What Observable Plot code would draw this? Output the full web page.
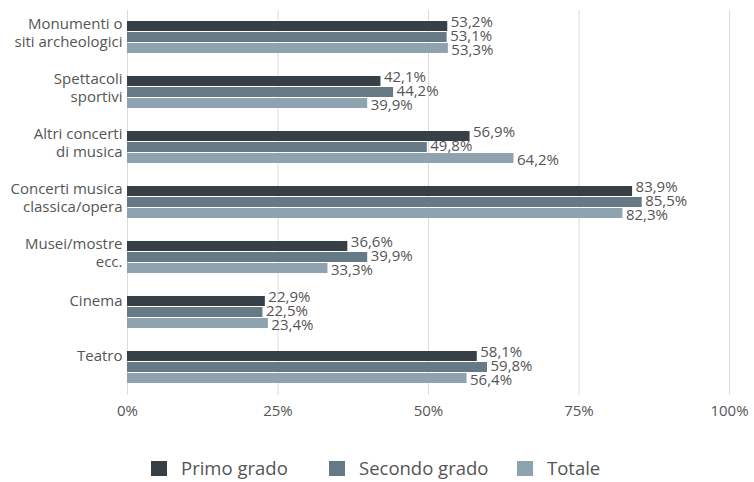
<!DOCTYPE html>
<html><head><meta charset="utf-8">
<script src="https://cdn.jsdelivr.net/npm/d3@7"></script>
<script src="https://cdn.jsdelivr.net/npm/@observablehq/plot@0.6"></script>
<style>
body{margin:0;background:#fff;font-family:"Open Sans",sans-serif;}
#wrap{position:relative;width:754px;height:482px;}
#legend{position:absolute;left:0;top:458px;width:754px;height:20px;font-size:18.5px;color:#555;}
.item{position:absolute;top:0;display:flex;align-items:center;height:20px;line-height:20px;}
.sw{width:16px;height:15px;display:inline-block;margin-right:14px;}
</style></head><body>
<div id="wrap">
<div id="chart"></div>
<div id="legend"></div>
</div>
<script>
const categories = ["Monumenti o\nsiti archeologici","Spettacoli\nsportivi","Altri concerti\ndi musica","Concerti musica\nclassica/opera","Musei/mostre\necc.","Cinema","Teatro"];
const series = ["Primo grado","Secondo grado","Totale"];
const colors = ["#373f47","#657a84","#8ea3af"];
const primo = [53.2,42.1,56.9,83.9,36.6,22.9,58.1];
const secondo = [53.1,44.2,49.8,85.5,39.9,22.5,59.8];
const totale = [53.3,39.9,64.2,82.3,33.3,23.4,56.4];
const xTicks = [0,25,50,75,100];

const vals = [primo, secondo, totale];
const data = [];
categories.forEach((c,i)=>series.forEach((s,j)=>data.push({cat:c, ser:s, v:vals[j][i]})));
const fmt = v => v.toFixed(1).replace(".", ",") + "%";
const labelDy = [-4, -1, 2];
const multiLine = categories.filter(c => c.includes("\n"));
const singleLine = categories.filter(c => !c.includes("\n"));

const plot = Plot.plot({
  width: 754, height: 427,
  marginLeft: 127, marginRight: 25, marginTop: 7, marginBottom: 30,
  style: {fontFamily: "Open Sans", fontSize: "15px", color: "#555"},
  x: {domain: [0,100], ticks: xTicks, tickFormat: d => d + "%", grid: false, label: null},
  fy: {domain: categories, padding: 0, label: null, axis: null},
  y: {domain: series, paddingInner: 0.06, paddingOuter: 0.88, axis: null},
  color: {domain: series, range: colors},
  marks: [
    Plot.ruleX(xTicks, {x: d => d, stroke: "#dcdcdc", strokeWidth: 1}),
    Plot.axisX({ticks: xTicks, tickFormat: d => d + "%", tickSize: 0, tickPadding: 10, fontSize: 15, fill: "#555", label: null}),
    Plot.axisFy({ticks: multiLine, anchor: "left", tickSize: 0, tickPadding: 5, fontSize: 15, fill: "#555", lineHeight: 1.2, lineAnchor: "top", dy: -22, label: null}),
    Plot.axisFy({ticks: singleLine, anchor: "left", tickSize: 0, tickPadding: 5, fontSize: 15, fill: "#555", lineAnchor: "top", dy: -18, label: null}),
    Plot.barX(data, {fy: "cat", y: "ser", x: "v", fill: "ser"}),
    ...series.map((s, j) => Plot.text(data.filter(d => d.ser === s), {fy: "cat", y: "ser", x: "v", text: d => fmt(d.v), textAnchor: "start", dx: 3, dy: labelDy[j], fontSize: 15, fill: "#555"}))
  ]
});
document.getElementById("chart").appendChild(plot);

const lg = document.getElementById("legend");
const legendX = [151, 329, 517];
series.forEach((s,i)=>{
  const it = document.createElement("div");
  it.className = "item";
  it.style.left = legendX[i] + "px";
  it.innerHTML = `<span class="sw" style="background:${colors[i]}"></span><span>${s}</span>`;
  lg.appendChild(it);
});
</script>
</body></html>
